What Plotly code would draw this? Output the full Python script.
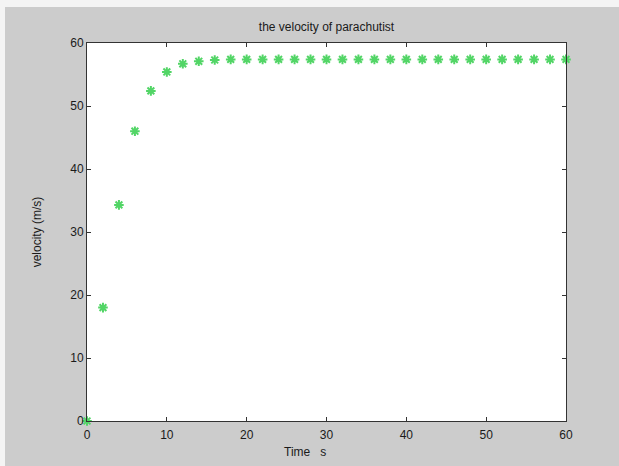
import plotly.graph_objects as go

time_s = [0, 2, 4, 6, 8, 10, 12, 14, 16, 18, 20, 22, 24, 26, 28, 30,
          32, 34, 36, 38, 40, 42, 44, 46, 48, 50, 52, 54, 56, 58, 60]
velocity = [0, 18.0, 34.3, 46.0, 52.4, 55.4, 56.7, 57.1, 57.3, 57.4, 57.4, 57.4, 57.4,
            57.4, 57.4, 57.4, 57.4, 57.4, 57.4, 57.4, 57.4, 57.4, 57.4, 57.4, 57.4,
            57.4, 57.4, 57.4, 57.4, 57.4, 57.4]
x_ticks = [0, 10, 20, 30, 40, 50, 60]
y_ticks = [0, 10, 20, 30, 40, 50, 60]

W, H = 619, 466
L, R, T, B = 87, 53, 43, 45
pw, ph = W - L - R, H - T - B

fig = go.Figure()
fig.add_trace(go.Scatter(
    x=time_s, y=velocity, mode="markers",
    marker=dict(symbol="asterisk-open", size=8, color="#52d566",
                line=dict(color="#52d566", width=2)),
    cliponaxis=False, showlegend=False,
))

font = dict(family="Liberation Sans, Arial", size=12, color="#1a1a1a")
axis_common = dict(
    showgrid=False, zeroline=False, showline=True, linecolor="#333333",
    linewidth=1, mirror="ticks", ticks="inside", ticklen=4, tickcolor="#333333",
    tickfont=font,
)
fig.update_layout(
    width=W, height=H,
    paper_bgcolor="#cccccc", plot_bgcolor="white",
    margin=dict(l=L, r=R, t=T, b=B),
    title=dict(text="the velocity of parachutist", x=0.5, xref="paper",
               y=1 - 27 / H, yanchor="middle", font=font),
    xaxis=dict(range=[0, 60], tickvals=x_ticks, ticklabelstandoff=3, **axis_common),
    yaxis=dict(range=[0, 60], tickvals=y_ticks,
               title=dict(text="velocity (m/s)", standoff=26, font=font), **axis_common),
    annotations=[dict(text="Time   s", xref="paper", yref="paper",
                      x=(305 - L) / pw, y=-(452 - (T + ph)) / ph,
                      xanchor="center", yanchor="middle", showarrow=False, font=font)],
    shapes=[
        dict(type="rect", xref="paper", yref="paper", layer="above",
             x0=-L / pw, x1=(W - L) / pw, y0=1 + (T - 7) / ph, y1=1 + T / ph,
             fillcolor="#f4f4f4", line=dict(width=0)),
        dict(type="rect", xref="paper", yref="paper", layer="above",
             x0=-L / pw, x1=-(L - 5) / pw, y0=-B / ph, y1=1 + T / ph,
             fillcolor="#f4f4f4", line=dict(width=0)),
    ],
)
fig.write_html("out.html", config={"displayModeBar": False},
               post_script="document.body.style.margin='0';document.body.style.padding='0';")
